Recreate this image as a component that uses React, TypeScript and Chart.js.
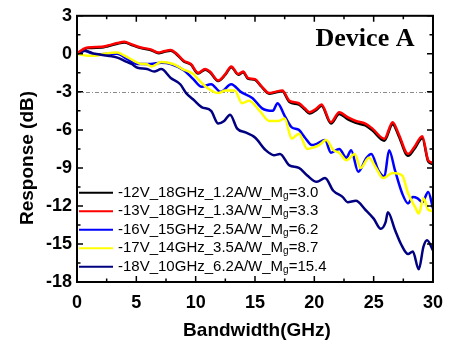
import React, { useEffect, useRef } from "react";
import { Chart, registerables } from "chart.js";

Chart.register(...registerables);

const seriesLabels = [
  "-12V_18GHz_1.2A/W_Mg=3.0",
  "-13V_18GHz_1.3A/W_Mg=3.3",
  "-16V_15GHz_2.5A/W_Mg=6.2",
  "-17V_14GHz_3.5A/W_Mg=8.7",
  "-18V_10GHz_6.2A/W_Mg=15.4",
];
const seriesColors = ["#000000", "#ff0000", "#0000ff", "#ffff00", "#000080"];

const freqRed = [0, 0.1, 0.9, 2.1, 2.6, 3.4, 4.0, 4.6, 5.4, 6.2, 6.9, 7.3, 7.9, 8.4, 9.0, 9.6, 10.2, 10.8, 11.2, 11.9, 12.5, 13.0, 13.6, 14.0, 14.4, 15.0, 15.5, 16.2, 16.7, 17.3, 17.9, 18.7, 19.2, 19.6, 20.2, 20.6, 21.4, 22.1, 22.8, 23.5, 24.3, 24.9, 25.9, 26.6, 27.1, 27.9, 28.4, 29.1, 29.6, 30];
const respRed = [0, 0.1, 0.5, 0.55, 0.65, 0.85, 0.95, 0.75, 0.5, 0.35, 0.1, 0.2, 0.3, 0.0, -0.55, -0.8, -1.5, -1.2, -1.4, -2.1, -1.6, -1.0, -1.6, -1.4, -1.9, -2.0, -2.5, -3.1, -3.0, -2.9, -3.7, -3.9, -4.3, -4.6, -4.3, -4.0, -5.4, -4.6, -5.0, -5.3, -5.5, -5.9, -6.7, -5.4, -6.3, -7.9, -7.4, -6.5, -8.4, -8.6];

const freqBlack = freqRed;
const respBlack = [0, 0.05, 0.45, 0.5, 0.6, 0.8, 0.9, 0.7, 0.45, 0.3, 0.05, 0.15, 0.25, -0.05, -0.6, -0.85, -1.55, -1.25, -1.45, -2.15, -1.65, -1.05, -1.65, -1.45, -1.95, -2.05, -2.55, -3.15, -3.05, -2.95, -3.8, -4.0, -4.4, -4.7, -4.4, -4.1, -5.5, -4.75, -5.15, -5.45, -5.65, -6.05, -6.85, -5.55, -6.45, -8.05, -7.55, -6.65, -8.5, -8.7];

const freqBlue = [0, 0.66, 1.5, 2.6, 3.4, 4.2, 5.1, 6.2, 7.1, 7.9, 9.0, 9.8, 10.5, 11.3, 12.1, 13.0, 13.8, 14.8, 15.6, 16.5, 16.9, 17.5, 18.1, 18.7, 19.2, 19.8, 20.2, 20.9, 21.4, 22.1, 22.7, 23.1, 23.7, 24.4, 24.8, 25.4, 25.9, 26.3, 26.8, 27.4, 27.9, 28.3, 28.7, 29.1, 29.6, 30];
const respBlue = [0, 0.25, -0.05, 0.0, 0.0, -0.4, -0.8, -0.8, -0.7, -0.8, -1.3, -2.0, -2.6, -2.4, -3.0, -2.4, -3.0, -3.5, -4.3, -4.5, -3.9, -4.9, -5.8, -6.0, -6.6, -7.2, -7.1, -6.8, -7.8, -7.5, -8.2, -7.6, -9.3, -8.2, -7.9, -9.2, -9.7, -7.6, -9.2, -11.0, -11.8, -11.3, -11.4, -11.7, -10.9, -12.2];

const freqYellow = [0, 0.9, 1.5, 2.3, 3.4, 4.0, 4.8, 5.4, 5.8, 6.3, 7.1, 8.1, 8.9, 9.8, 10.2, 11.0, 11.9, 12.5, 13.3, 13.9, 14.5, 15.4, 16.2, 17.0, 17.5, 18.1, 18.7, 19.4, 19.9, 20.4, 21.0, 21.6, 22.1, 22.7, 23.4, 23.9, 24.6, 25.2, 25.8, 26.6, 27.4, 27.9, 28.5, 28.8, 29.2, 29.6, 30];
const respYellow = [0, -0.15, -0.15, 0, 0.1, -0.15, -0.55, -0.8, -0.8, -1.0, -0.65, -0.8, -1.2, -1.6, -2.0, -2.7, -3.1, -2.9, -2.9, -3.9, -3.7, -4.5, -5.3, -5.3, -5.1, -6.7, -6.3, -7.5, -7.4, -7.2, -6.8, -7.6, -7.8, -8.4, -7.9, -9.0, -8.2, -9.0, -9.8, -9.4, -9.6, -11.0, -12.1, -12.6, -11.4, -12.3, -12.4];

const freqNavy = [0, 0.66, 1.5, 2.6, 3.4, 4.0, 4.6, 5.1, 5.9, 6.5, 7.1, 7.9, 8.7, 9.2, 9.8, 10.5, 11.3, 11.9, 12.4, 12.9, 13.5, 14.2, 15.0, 15.9, 16.6, 17.1, 17.9, 18.7, 19.4, 20.2, 20.9, 21.6, 22.4, 22.8, 23.5, 24.3, 25.0, 25.6, 26.0, 26.2, 26.8, 27.3, 27.9, 28.3, 28.8, 29.2, 29.5, 30];
const respNavy = [0, 0.25, 0, -0.15, -0.3, -0.55, -0.8, -1.1, -1.2, -1.4, -1.2, -1.9, -2.4, -3.1, -3.6, -4.2, -4.5, -5.5, -5.3, -4.8, -5.9, -6.2, -6.6, -7.6, -8.0, -7.9, -8.8, -9.0, -9.6, -10.1, -9.8, -10.8, -11.3, -11.7, -11.6, -12.3, -13.0, -13.8, -13.3, -12.5, -13.9, -15.0, -15.8, -15.6, -17.0, -15.2, -14.7, -15.5];

const xTicks = [0, 5, 10, 15, 20, 25, 30];
const yTicks = [3, 0, -3, -6, -9, -12, -15, -18];
const refLevel = -3;
const titleText = "Device A";
const xTitle = "Bandwidth(GHz)";
const yTitle = "Response (dB)";

const SANS = "'Liberation Sans', Arial, sans-serif";
const SERIF = "'Liberation Serif', 'Times New Roman', serif";

function pairs(xs: number[], ys: number[]) {
  return xs.map((x, i) => ({ x, y: ys[i] }));
}

const framePlugin = {
  id: "frame",
  beforeDatasetsDraw(chart: any) {
    const { ctx, chartArea: a, scales } = chart;
    const y = scales.y.getPixelForValue(refLevel);
    ctx.save();
    ctx.strokeStyle = "#8a8a8a";
    ctx.lineWidth = 1;
    ctx.setLineDash([4, 2, 1, 2]);
    ctx.beginPath();
    ctx.moveTo(a.left, Math.round(y) + 0.5);
    ctx.lineTo(a.right, Math.round(y) + 0.5);
    ctx.stroke();
    ctx.restore();
  },
  afterDatasetsDraw(chart: any) {
    const { ctx, chartArea: a, scales } = chart;
    const xs = scales.x;
    const ys = scales.y;
    ctx.save();
    ctx.strokeStyle = "#000";
    ctx.lineWidth = 2;
    ctx.strokeRect(a.left, a.top, a.right - a.left, a.bottom - a.top);
    ctx.lineWidth = 1.5;
    ctx.beginPath();
    for (let v = 0; v <= 30; v += 2.5) {
      const px = xs.getPixelForValue(v);
      const len = v % 5 === 0 ? 6 : 3.5;
      ctx.moveTo(px, a.bottom);
      ctx.lineTo(px, a.bottom - len);
      ctx.moveTo(px, a.top);
      ctx.lineTo(px, a.top + len);
    }
    for (let v = -18; v <= 3; v += 1.5) {
      const py = ys.getPixelForValue(v);
      const len = Math.abs(v % 3) < 1e-6 ? 6 : 3.5;
      ctx.moveTo(a.left, py);
      ctx.lineTo(a.left + len, py);
      ctx.moveTo(a.right, py);
      ctx.lineTo(a.right - len, py);
    }
    ctx.stroke();
    ctx.restore();
  },
  afterDraw(chart: any) {
    const { ctx, chartArea: a } = chart;
    ctx.save();
    // Device title
    ctx.fillStyle = "#000";
    ctx.font = `bold 26px ${SERIF}`;
    ctx.textAlign = "center";
    ctx.textBaseline = "alphabetic";
    ctx.fillText(titleText, a.left + 288, a.top + 30);
    // axis titles
    ctx.font = `bold 19px ${SANS}`;
    ctx.textBaseline = "middle";
    ctx.fillText(xTitle, (a.left + a.right) / 2 + 2, 331);
    ctx.save();
    ctx.translate(28, 158);
    ctx.rotate(-Math.PI / 2);
    ctx.fillText(yTitle, 0, 0);
    ctx.restore();
    // legend
    const ds = chart.data.datasets;
    const order = [0, 1, 2, 3, 4];
    order.forEach((i, k) => {
      const d = ds[i];
      const yy = a.top + 177 + k * 18.5;
      ctx.strokeStyle = d.borderColor;
      ctx.lineWidth = 2;
      ctx.beginPath();
      ctx.moveTo(a.left + 2, yy);
      ctx.lineTo(a.left + 36, yy);
      ctx.stroke();
      const label: string = d.label;
      const idx = label.indexOf("Mg");
      const pre = label.slice(0, idx + 1);
      const post = label.slice(idx + 2);
      let x = a.left + 41;
      ctx.fillStyle = "#000";
      ctx.textAlign = "left";
      ctx.textBaseline = "middle";
      ctx.font = `15px ${SANS}`;
      ctx.fillText(pre, x, yy);
      x += ctx.measureText(pre).width;
      ctx.font = `10px ${SANS}`;
      ctx.fillText("g", x, yy + 3);
      x += ctx.measureText("g").width;
      ctx.font = `15px ${SANS}`;
      ctx.fillText(post, x, yy);
    });
    ctx.restore();
  },
};

export default function App() {
  const ref = useRef<HTMLCanvasElement | null>(null);
  useEffect(() => {
    if (!ref.current) return;
    const xsArr = [freqBlack, freqRed, freqBlue, freqYellow, freqNavy];
    const ysArr = [respBlack, respRed, respBlue, respYellow, respNavy];
    const drawOrder = [4, 0, 3, 2, 1];
    const chart = new Chart(ref.current, {
      type: "line",
      data: {
        datasets: seriesLabels.map((label, i) => ({
          label,
          data: pairs(xsArr[i], ysArr[i]),
          borderColor: seriesColors[i],
          backgroundColor: seriesColors[i],
          borderWidth: 2.5,
          pointRadius: 0,
          cubicInterpolationMode: "monotone" as const,
          order: drawOrder[i],
        })),
      },
      options: {
        responsive: false,
        animation: false,
        layout: { padding: { left: 0, top: 15, right: 15, bottom: 0 } },
        plugins: {
          legend: { display: false },
          tooltip: { enabled: false },
          title: { display: false },
        },
        scales: {
          x: {
            type: "linear",
            min: 0,
            max: 30,
            grid: { display: false, drawTicks: false },
            border: { display: false },
            afterBuildTicks: (s: any) => {
              s.ticks = xTicks.map((v) => ({ value: v }));
            },
            afterFit: (s: any) => {
              s.height = 65;
            },
            ticks: {
              color: "#000",
              padding: 10,
              maxRotation: 0,
              font: { family: SANS, size: 18, weight: "bold" },
            },
          },
          y: {
            type: "linear",
            min: -18,
            max: 3,
            grid: { display: false, drawTicks: false },
            border: { display: false },
            afterBuildTicks: (s: any) => {
              s.ticks = yTicks.map((v) => ({ value: v }));
            },
            afterFit: (s: any) => {
              s.width = 77;
            },
            ticks: {
              color: "#000",
              padding: 5,
              font: { family: SANS, size: 18, weight: "bold" },
            },
          },
        },
      },
      plugins: [framePlugin],
    });
    return () => chart.destroy();
  }, []);
  return (
    <div style={{ position: "fixed", left: 0, top: 0, width: 453, height: 347, background: "#fff" }}>
      <canvas ref={ref} width={453} height={347} style={{ display: "block" }} />
    </div>
  );
}
